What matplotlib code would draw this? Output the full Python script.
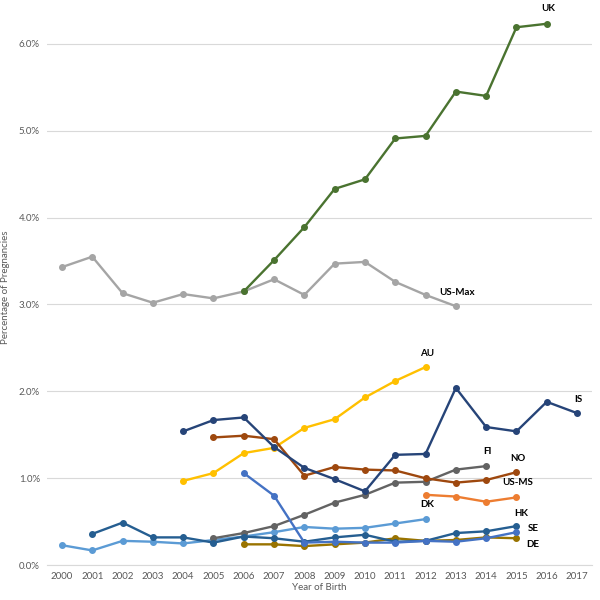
import matplotlib
matplotlib.use('Agg')
import matplotlib.pyplot as plt
from matplotlib.ticker import FuncFormatter

plt.rcParams['font.family'] = ['Lato', 'DejaVu Sans']

# series: first year + yearly values (% of pregnancies)
uk_start = 2006
uk = [3.15, 3.51, 3.89, 4.33, 4.44, 4.91, 4.94, 5.45, 5.40, 6.19, 6.23]
usmax_start = 2000
usmax = [3.43, 3.55, 3.13, 3.02, 3.12, 3.07, 3.15, 3.29, 3.11, 3.47, 3.49, 3.26, 3.11, 2.98]
au_start = 2004
au = [0.97, 1.06, 1.29, 1.35, 1.58, 1.68, 1.93, 2.12, 2.28]
is_start = 2004
iceland = [1.54, 1.67, 1.70, 1.36, 1.12, 0.99, 0.85, 1.27, 1.28, 2.04, 1.59, 1.54, 1.88, 1.75]
no_start = 2005
no = [1.47, 1.49, 1.45, 1.03, 1.13, 1.10, 1.09, 1.00, 0.95, 0.98, 1.07]
fi_start = 2005
fi = [0.31, 0.37, 0.45, 0.58, 0.72, 0.81, 0.95, 0.96, 1.10, 1.14]
usms_start = 2012
usms = [0.81, 0.79, 0.73, 0.78]
dk_start = 2000
dk = [0.23, 0.17, 0.28, 0.27, 0.25, 0.29, 0.33, 0.38, 0.44, 0.42, 0.43, 0.48, 0.53]
hk_start = 2006
hk = [1.06, 0.80, 0.26, 0.27, 0.26, 0.26, 0.28, 0.27, 0.31, 0.38]
se_start = 2001
se = [0.36, 0.49, 0.32, 0.32, 0.26, 0.33, 0.31, 0.27, 0.32, 0.35, 0.27, 0.28, 0.37, 0.39, 0.45]
de_start = 2006
de = [0.24, 0.24, 0.22, 0.24, 0.26, 0.31, 0.28, 0.29, 0.32, 0.31]

series = [
    ('US-Max', usmax_start, usmax, '#a5a5a5', (2013.05, 3.14)),
    ('UK', uk_start, uk, '#4a7330', (2016.05, 6.41)),
    ('DE', de_start, de, '#997300', (2015.55, 0.24)),
    ('DK', dk_start, dk, '#5b9bd5', (2012.05, 0.70)),
    ('FI', fi_start, fi, '#636363', (2014.05, 1.31)),
    ('SE', se_start, se, '#255e91', (2015.55, 0.42)),
    ('HK', hk_start, hk, '#4472c4', (2015.15, 0.59)),
    ('AU', au_start, au, '#ffc000', (2012.05, 2.44)),
    ('NO', no_start, no, '#9e480e', (2015.05, 1.23)),
    ('US-MS', usms_start, usms, '#ed7d31', (2015.05, 0.95)),
    ('IS', is_start, iceland, '#264478', (2017.05, 1.91)),
]

fig = plt.figure(figsize=(6, 6), dpi=100)
ax = fig.add_axes([0.078, 0.058, 0.909, 0.927])

for name, start, vals, col, (lx, ly) in series:
    yrs = list(range(start, start + len(vals)))
    ax.plot(yrs, vals, color=col, lw=1.7, marker='o', markersize=4, zorder=3)
    ax.text(lx, ly, name, fontsize=7, fontweight='bold', color='black',
            ha='center', va='center', clip_on=False)

ax.set_xlim(1999.5, 2017.5)
ax.set_ylim(0, 6.4)
ax.set_xticks(range(2000, 2018))
ax.set_yticks([0, 1, 2, 3, 4, 5, 6])
ax.yaxis.set_major_formatter(FuncFormatter(lambda v, p: f'{v:.1f}%'))
ax.grid(axis='y', color='#d9d9d9', lw=0.8)
ax.set_axisbelow(True)
for s in ['top', 'right', 'left']:
    ax.spines[s].set_visible(False)
ax.spines['bottom'].set_color('#d9d9d9')
ax.tick_params(length=0, labelsize=7, colors='#595959', pad=5)
ax.set_xlabel('Year of Birth', fontsize=7, color='#595959', labelpad=1)
ax.set_ylabel('Percentage of Pregnancies', fontsize=7, color='#595959', labelpad=6)

plt.savefig('out.png', dpi=100)
